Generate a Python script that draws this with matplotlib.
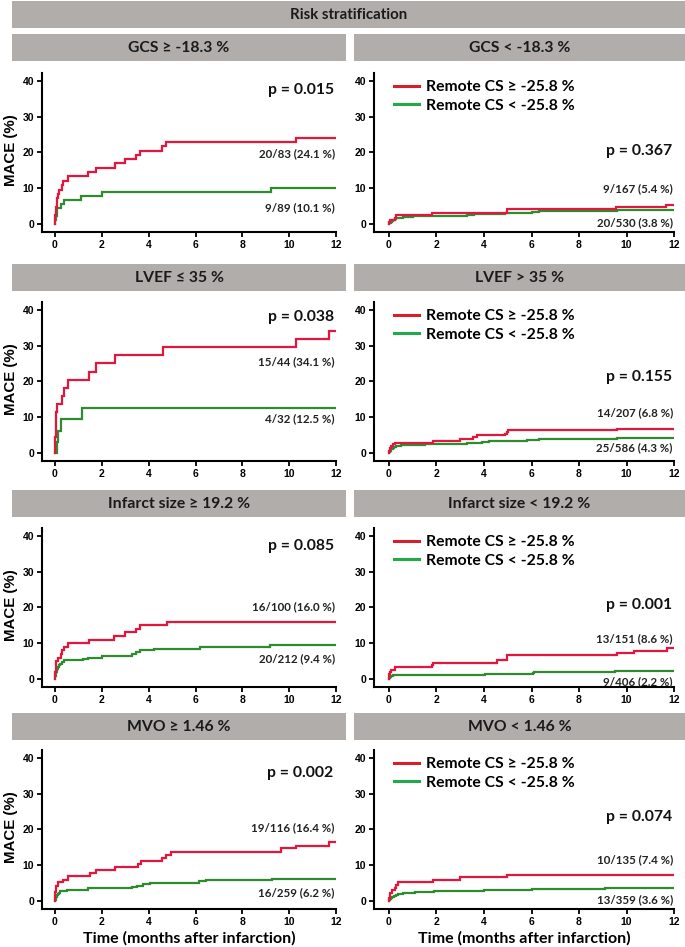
import matplotlib
matplotlib.use("Agg")
import matplotlib.pyplot as plt
from matplotlib.patches import Rectangle

# ---------------- data ----------------
panel_titles = ["GCS ≥ -18.3 %", "GCS < -18.3 %",
                "LVEF ≤ 35 %", "LVEF > 35 %",
                "Infarct size ≥ 19.2 %", "Infarct size < 19.2 %",
                "MVO ≥ 1.46 %", "MVO < 1.46 %"]
main_title = "Risk stratification"
legend_labels = ["Remote CS ≥ -25.8 %", "Remote CS < -25.8 %"]
p_values = ["p = 0.015", "p = 0.367", "p = 0.038", "p = 0.155",
            "p = 0.085", "p = 0.001", "p = 0.002", "p = 0.074"]
red_counts = ["20/83 (24.1 %)", "9/167 (5.4 %)", "15/44 (34.1 %)", "14/207 (6.8 %)",
              "16/100 (16.0 %)", "13/151 (8.6 %)", "19/116 (16.4 %)", "10/135 (7.4 %)"]
green_counts = ["9/89 (10.1 %)", "20/530 (3.8 %)", "4/32 (12.5 %)", "25/586 (4.3 %)",
                "20/212 (9.4 %)", "9/406 (2.2 %)", "16/259 (6.2 %)", "13/359 (3.6 %)"]

# GCS >= -18.3
gcs_hi_red_t = [0, 0.01, 0.02, 0.03, 0.05, 0.07, 0.09, 0.12, 0.15, 0.3, 0.36, 0.57, 1.43, 1.75, 2.55, 2.97, 3.48, 3.65, 4.56, 4.76, 10.3]
gcs_hi_red_y = [0, 1.2, 2.4, 3.6, 4.8, 6.0, 7.2, 8.4, 9.6, 10.8, 12.0, 13.3, 14.5, 15.7, 16.9, 18.1, 19.3, 20.5, 21.7, 22.9, 24.1]
gcs_hi_grn_t = [0, 0.02, 0.04, 0.07, 0.1, 0.24, 0.4, 1.13, 2.0, 9.24]
gcs_hi_grn_y = [0, 1.1, 2.2, 3.4, 4.5, 5.6, 6.7, 7.9, 9.0, 10.1]
# GCS < -18.3
gcs_lo_red_t = [0, 0.01, 0.05, 0.27, 0.28, 1.83, 4.96, 4.97, 9.55, 11.65]
gcs_lo_red_y = [0, 0.6, 1.2, 1.8, 2.4, 3.0, 3.6, 4.2, 4.8, 5.4]
gcs_lo_grn_t = [0, 0.02, 0.05, 0.08, 0.12, 0.16, 0.2, 0.25, 0.3, 0.4, 0.6, 1.0, 1.8, 3.3, 3.6, 4.0, 4.9, 6.0, 6.3, 6.35, 9.6]
gcs_lo_grn_y = [0, 0.2, 0.4, 0.6, 0.8, 1.0, 1.2, 1.4, 1.6, 1.8, 1.9, 2.1, 2.3, 2.5, 2.7, 2.9, 3.1, 3.3, 3.5, 3.7, 3.8]
# LVEF <= 35
lvef_lo_red_t = [0, 0.01, 0.02, 0.03, 0.05, 0.06, 0.08, 0.3, 0.37, 0.55, 1.47, 1.75, 2.58, 4.6, 10.3, 11.7]
lvef_lo_red_y = [0, 2.3, 4.5, 6.8, 9.1, 11.4, 13.6, 15.9, 18.2, 20.5, 22.7, 25.0, 27.3, 29.6, 31.9, 34.1]
lvef_lo_grn_t = [0, 0.1, 0.11, 0.26, 1.17]
lvef_lo_grn_y = [0, 3.1, 6.25, 9.4, 12.5]
# LVEF > 35
lvef_hi_red_t = [0, 0.01, 0.03, 0.06, 0.1, 0.15, 0.25, 1.84, 3.0, 3.53, 3.7, 4.9, 4.95, 5.0, 9.6]
lvef_hi_red_y = [0, 0.5, 1.0, 1.5, 1.9, 2.4, 2.9, 3.4, 3.9, 4.4, 4.9, 5.4, 5.9, 6.3, 6.8]
lvef_hi_grn_t = [0, 0.02, 0.04, 0.06, 0.08, 0.1, 0.13, 0.16, 0.2, 0.25, 0.3, 0.4, 0.5, 0.6, 1.5, 2.3, 3.3, 3.6, 3.9, 4.2, 5.8, 6.0, 6.3, 9.5, 9.6, 9.65]
lvef_hi_grn_y = [0, 0.2, 0.4, 0.6, 0.8, 1.0, 1.2, 1.4, 1.6, 1.8, 1.9, 2.0, 2.1, 2.2, 2.4, 2.6, 2.8, 2.9, 3.1, 3.3, 3.5, 3.7, 3.9, 4.0, 4.2, 4.3]
# Infarct size >= 19.2
is_hi_red_t = [0, 0.01, 0.02, 0.03, 0.04, 0.05, 0.14, 0.25, 0.32, 0.4, 0.54, 1.47, 2.53, 2.99, 3.46, 3.63, 4.77]
is_hi_red_y = [0, 1, 2, 3, 4, 5, 6, 7, 8, 9, 10, 11, 12, 13, 14, 15, 16]
is_hi_grn_t = [0, 0.01, 0.02, 0.04, 0.06, 0.08, 0.1, 0.13, 0.17, 0.22, 0.3, 0.4, 1.2, 1.4, 2.0, 3.3, 3.45, 3.63, 4.24, 6.2, 9.2]
is_hi_grn_y = [0, 0.5, 0.9, 1.4, 1.9, 2.4, 2.8, 3.3, 3.8, 4.3, 4.7, 5.2, 5.6, 6.0, 6.5, 7.0, 7.5, 8.0, 8.5, 8.9, 9.4]
# Infarct size < 19.2
is_lo_red_t = [0, 0.01, 0.02, 0.03, 0.07, 0.26, 1.8, 1.85, 4.55, 4.97, 4.98, 9.6, 10.3, 11.7]
is_lo_red_y = [0, 0.66, 1.3, 2.0, 2.6, 3.3, 3.9, 4.6, 5.3, 5.9, 6.6, 7.3, 7.9, 8.6]
is_lo_grn_t = [0, 0.01, 0.04, 0.08, 0.15, 0.5, 4.05, 6.05, 6.1, 9.5]
is_lo_grn_y = [0, 0.25, 0.5, 0.75, 1.0, 1.2, 1.5, 1.7, 2.0, 2.2]
# MVO >= 1.46
mvo_hi_red_t = [0, 0.005, 0.01, 0.02, 0.025, 0.03, 0.14, 0.35, 0.57, 1.49, 1.77, 2.55, 3.54, 3.68, 4.57, 4.74, 4.96, 9.63, 10.3, 11.69]
mvo_hi_red_y = [0, 0.86, 1.7, 2.6, 3.4, 4.3, 5.2, 6.0, 6.9, 7.8, 8.6, 9.5, 10.3, 11.2, 12.1, 12.9, 13.8, 14.7, 15.5, 16.4]
mvo_hi_grn_t = [0, 0.01, 0.03, 0.05, 0.08, 0.11, 0.15, 0.2, 0.5, 1.4, 3.3, 3.5, 3.75, 4.07, 6.17, 6.45, 9.28]
mvo_hi_grn_y = [0, 0.4, 0.8, 1.2, 1.6, 2.0, 2.3, 2.7, 3.1, 3.5, 3.9, 4.3, 4.7, 5.1, 5.5, 5.9, 6.2]
# MVO < 1.46
mvo_lo_red_t = [0, 0.01, 0.03, 0.06, 0.11, 0.27, 0.28, 0.4, 1.84, 2.98, 4.96]
mvo_lo_red_y = [0, 0.74, 1.5, 2.2, 3.0, 3.7, 4.4, 5.2, 5.9, 6.7, 7.4]
mvo_lo_grn_t = [0, 0.02, 0.05, 0.09, 0.14, 0.2, 0.28, 0.4, 0.6, 1.1, 1.9, 4.0, 6.0, 9.1]
mvo_lo_grn_y = [0, 0.3, 0.6, 0.8, 1.1, 1.4, 1.7, 1.9, 2.2, 2.5, 2.8, 3.1, 3.3, 3.6]

x_ticks = [0, 2, 4, 6, 8, 10, 12]
y_ticks = [0, 10, 20, 30, 40]
y_label = "MACE (%)"
x_label = "Time (months after infarction)"

curves = [
    (gcs_hi_red_t, gcs_hi_red_y, gcs_hi_grn_t, gcs_hi_grn_y),
    (gcs_lo_red_t, gcs_lo_red_y, gcs_lo_grn_t, gcs_lo_grn_y),
    (lvef_lo_red_t, lvef_lo_red_y, lvef_lo_grn_t, lvef_lo_grn_y),
    (lvef_hi_red_t, lvef_hi_red_y, lvef_hi_grn_t, lvef_hi_grn_y),
    (is_hi_red_t, is_hi_red_y, is_hi_grn_t, is_hi_grn_y),
    (is_lo_red_t, is_lo_red_y, is_lo_grn_t, is_lo_grn_y),
    (mvo_hi_red_t, mvo_hi_red_y, mvo_hi_grn_t, mvo_hi_grn_y),
    (mvo_lo_red_t, mvo_lo_red_y, mvo_lo_grn_t, mvo_lo_grn_y),
]

# ---------------- layout / style ----------------
W, H = 685, 947
RED = "#e3173e"
GREEN = "#2e8b2e"
LEG_RED = "#d81e2a"
LEG_GREEN = "#22aa48"
BOX = "#b1adab"
CAL = ["Lato", "DejaVu Sans"]
ARI = ["Liberation Sans", "DejaVu Sans"]

# annotation y positions (data units) per panel: p, red count, green count
p_y = [37.4, 20.4, 38.0, 21.2, 37.1, 20.7, 35.8, 23.5]
rc_y = [19.6, 9.8, 25.5, 11.3, 20.1, 11.2, 20.4, 11.5]
gc_y = [4.6, 0.4, 9.5, 1.4, 5.8, -0.7, 2.2, 0.5]

row_zero = [224, 453, 679, 901]
box_top = [34, 264, 490, 713]
ppu = 3.58
cols = [dict(spine=42, x0=55, x12=336, bl=12, br=346),
        dict(spine=374, x0=389, x12=674, bl=354, br=685)]

fig = plt.figure(figsize=(W / 100, H / 100), dpi=100)


def fig_rect(x1, y1, x2, y2):
    fig.add_artist(Rectangle((x1 / W, 1 - y2 / H), (x2 - x1) / W, (y2 - y1) / H,
                             transform=fig.transFigure, facecolor=BOX, edgecolor="none"))


# top banner
fig_rect(12, 1, 685, 28)
fig.text((12 + 685) / 2 / W, 1 - 15 / H, main_title, ha="center", va="center",
         fontsize=10.8, fontweight="bold", family=CAL, color="#1a1a1a")

for i in range(8):
    r, c = divmod(i, 2)
    col = cols[c]
    zero = row_zero[r]
    top = zero - 42.2 * ppu
    bottom = zero + 8
    ppm = (col["x12"] - col["x0"]) / 12.0
    ax = fig.add_axes([col["spine"] / W, 1 - bottom / H,
                       (col["x12"] - col["spine"]) / W, (bottom - top) / H])
    ax.set_xlim(-(col["x0"] - col["spine"]) / ppm, 12)
    ax.set_ylim(-8 / ppu, 42.2)
    for s in ["top", "right"]:
        ax.spines[s].set_visible(False)
    for s in ["left", "bottom"]:
        ax.spines[s].set_linewidth(1.5)
    ax.set_xticks(x_ticks)
    ax.set_yticks(y_ticks)
    ax.tick_params(length=3.5, width=1.3, pad=2, labelsize=7.5)
    for lab in ax.get_xticklabels() + ax.get_yticklabels():
        lab.set_fontweight("bold")
        lab.set_family(ARI)
    ax.patch.set_alpha(0)

    rt, ry, gt, gy = curves[i]
    ax.step(list(gt) + [12], list(gy) + [gy[-1]], where="post", color=GREEN, lw=1.6,
            solid_joinstyle="miter")
    ax.step(list(rt) + [12], list(ry) + [ry[-1]], where="post", color=RED, lw=1.6,
            solid_joinstyle="miter")

    ax.text(11.9, p_y[i], p_values[i], ha="right", va="center", fontsize=11.3,
            fontweight="bold", family=CAL, color="#111111")
    ax.text(11.95, rc_y[i], red_counts[i], ha="right", va="center", fontsize=8.3,
            fontweight="bold", family=CAL, color="#222222")
    ax.text(11.95, gc_y[i], green_counts[i], ha="right", va="center", fontsize=8.3,
            fontweight="bold", family=CAL, color="#222222")

    if c == 0:
        fig.text(11 / W, 1 - (zero - 74) / H, y_label, rotation=90, ha="center", va="center",
                 fontsize=10.8, fontweight="bold", family=ARI)
    else:
        h1, = ax.plot([], [], color=LEG_RED, lw=2.2)
        h2, = ax.plot([], [], color=LEG_GREEN, lw=2.2)
        leg_top = zero - 144
        ax.legend([h1, h2], legend_labels, loc="upper left", frameon=False,
                  bbox_to_anchor=((394 - col["spine"]) / (col["x12"] - col["spine"]),
                                  (bottom - leg_top) / (bottom - top)),
                  borderaxespad=0, borderpad=0, handlelength=1.6, handletextpad=0.45,
                  labelspacing=0.3, prop=dict(family=CAL, weight="bold", size=11.3))

    # header box
    bt = box_top[r]
    fig_rect(col["bl"], bt, col["br"], bt + 27)
    fig.text((col["bl"] + col["br"]) / 2 / W, 1 - (bt + 13.5) / H, panel_titles[i],
             ha="center", va="center", fontsize=11.3, fontweight="bold", family=CAL,
             color="#1a1a1a")

    if r == 3:
        fig.text((col["spine"] + col["x12"]) / 2 / W, 1 - 943 / H, x_label, ha="center",
                 va="baseline", fontsize=11.5, fontweight="bold", family=CAL)

fig.savefig("out.png", dpi=100)
